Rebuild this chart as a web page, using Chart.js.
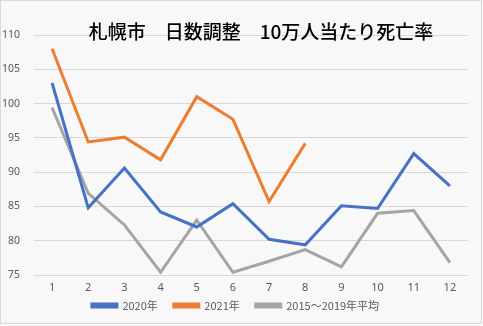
<!DOCTYPE html>
<html>
<head>
<meta charset="utf-8">
<script src="https://cdn.jsdelivr.net/npm/chart.js@4"></script>
<style>
  html, body { margin: 0; padding: 0; background: #f8f8f8; }
  #wrap { position: relative; width: 483px; height: 326px; }
</style>
</head>
<body>
<div id="wrap"><canvas id="chart" width="483" height="326"></canvas></div>
<script>
// months on the x axis
const months = ["1", "2", "3", "4", "5", "6", "7", "8", "9", "10", "11", "12"];

// deaths per 100k (day-adjusted)
const rate2020 = [103.0, 84.8, 90.6, 84.2, 82.0, 85.4, 80.2, 79.4, 85.1, 84.7, 92.7, 88.0];
const rate2021 = [108.0, 94.4, 95.1, 91.8, 101.0, 97.7, 85.7, 94.2, null, null, null, null];
const rateAvg  = [99.4, 86.9, 82.3, 75.4, 83.0, 75.4, 77.0, 78.7, 76.2, 84.0, 84.4, 76.8];

const seriesNames = ["2020年", "2021年", "2015～2019年平均"];
const titleText = "札幌市　日数調整　10万人当たり死亡率";

// background, frame and title (title sits off-centre in the original)
const framePlugin = {
    id: "frame",
    beforeDraw(chart) {
        const ctx = chart.ctx;
        ctx.save();
        ctx.fillStyle = "#f8f8f8";
        ctx.fillRect(0, 0, chart.width, chart.height);
        ctx.strokeStyle = "#d9d9d9";
        ctx.lineWidth = 1;
        ctx.strokeRect(0.5, 0.5, chart.width - 2, chart.height - 3);
        ctx.restore();
    },
    afterDraw(chart) {
        const ctx = chart.ctx;
        ctx.save();
        ctx.font = "500 19px 'Noto Sans CJK JP'";
        ctx.fillStyle = "#000";
        ctx.textAlign = "center";
        ctx.textBaseline = "middle";
        ctx.fillText(titleText, 261, 32);
        ctx.restore();
    },
};

const line = (label, data, color) => ({
    label,
    data,
    borderColor: color,
    backgroundColor: color,
    borderWidth: 3,
    pointRadius: 0,
    tension: 0,
    spanGaps: false,
});

new Chart(document.getElementById("chart"), {
    type: "line",
    data: {
        labels: months,
        datasets: [
            line(seriesNames[0], rate2020, "#4472c4"),
            line(seriesNames[1], rate2021, "#ed7d31"),
            line(seriesNames[2], rateAvg,  "#a5a5a5"),
        ],
    },
    options: {
        responsive: false,
        animation: false,
        layout: { padding: { top: 35, right: 15, left: 3, bottom: 5 } },
        plugins: {
            title: { display: false },
            tooltip: { enabled: false },
            legend: {
                position: "bottom",
                labels: {
                    boxWidth: 25,
                    boxHeight: 3,
                    padding: 5,
                    color: "#595959",
                    font: { family: "'Noto Sans CJK JP'", size: 11 },
                    // extra gap after the first two entries, like the original
                    generateLabels(chart) {
                        const items = Chart.defaults.plugins.legend.labels.generateLabels(chart);
                        items.forEach((it, i) => {
                            if (i < items.length - 1) it.text += "\u3000";
                        });
                        return items;
                    },
                },
            },
        },
        scales: {
            x: {
                offset: true,
                grid: { display: false, drawTicks: false },
                border: { display: false },
                ticks: {
                    color: "#595959",
                    font: { family: "'Noto Sans'", size: 11 },
                    padding: 6,
                },
                afterFit(scale) {
                    scale.height = 20;
                },
            },
            y: {
                min: 75,
                max: 110,
                border: { display: false },
                grid: { color: "#d9d9d9", drawTicks: false },
                ticks: {
                    stepSize: 5,
                    color: "#595959",
                    font: { family: "'Noto Sans'", size: 10.5 },
                    padding: 14,
                },
                afterFit(scale) {
                    scale.width = 31;
                },
            },
        },
    },
    plugins: [framePlugin],
});
</script>
</body>
</html>
